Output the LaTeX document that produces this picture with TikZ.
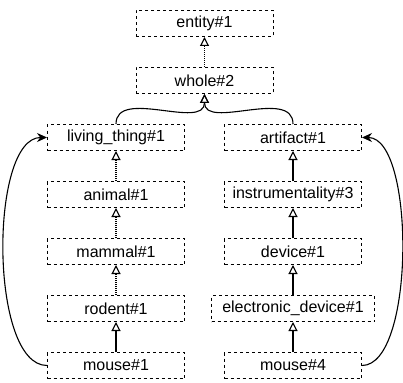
\documentclass[tikz,border=0pt]{standalone}
\usepackage{fontspec}
\setmainfont{Liberation Sans}
\usetikzlibrary{arrows.meta,positioning}

\tikzset{
  syn/.style={draw, dash pattern=on 3pt off 3pt, line width=1pt,
              minimum width=137pt, minimum height=26pt, inner sep=0pt,
              font=\fontsize{16}{18}\selectfont},
  isa/.style={-{Triangle[open,length=9pt,width=9pt]}, line width=1.1pt},
  hyp/.style={isa, dash pattern=on 1pt off 1pt},
  link/.style={-{Stealth[length=10pt,width=9pt]}, line width=1.1pt}
}

\begin{document}
\begin{tikzpicture}[node distance=57pt]
\useasboundingbox (0,0) rectangle (403pt,-382pt);

\node[syn] (E) at (204.5pt,-23.5pt) {entity\#1};
\node[syn] (W)  [below of=E] {whole\#2};

\node[syn] (LT) [below of=W, xshift=-88.5pt] {living\_thing\#1};
\node[syn] (AN) [below of=LT] {animal\#1};
\node[syn] (MA) [below of=AN] {mammal\#1};
\node[syn] (RO) [below of=MA] {rodent\#1};
\node[syn] (M1) [below of=RO] {mouse\#1};

\node[syn] (AR) [below of=W, xshift=88.5pt] {artifact\#1};
\node[syn] (IN) [below of=AR] {instrumentality\#3};
\node[syn] (DE) [below of=IN] {device\#1};
\node[syn, minimum width=163pt] (ED) [below of=DE] {electronic\_device\#1};
\node[syn] (M4) [below of=ED] {mouse\#4};

\draw[hyp] (W) -- (E);
\draw[isa] (LT.north) to[out=90,in=-90] (W.south);
\draw[isa] (AR.north) to[out=90,in=-90] (W.south);

\draw[hyp] (AN) -- (LT);
\draw[hyp] (MA) -- (AN);
\draw[hyp] (RO) -- (MA);
\draw[isa] (M1) -- (RO);

\draw[isa] (IN) -- (AR);
\draw[isa] (DE) -- (IN);
\draw[isa] (ED) -- (DE);
\draw[isa] (M4) -- (ED);

\draw[link] (M1.west) to[out=180,in=180,looseness=0.65] (LT.west);
\draw[link] (M4.east) to[out=0,in=0,looseness=0.6] (AR.east);
\end{tikzpicture}
\end{document}
